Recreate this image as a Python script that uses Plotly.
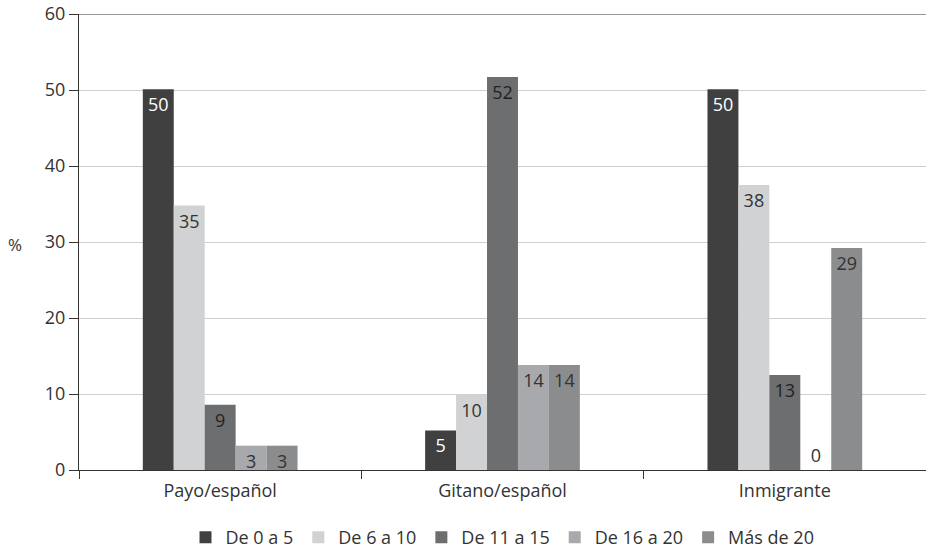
import plotly.graph_objects as go

# Grupos y tramos de antigüedad (%)
groups = ["Payo/español", "Gitano/español", "Inmigrante"]
series_names = ["De 0 a 5", "De 6 a 10", "De 11 a 15", "De 16 a 20", "Más de 20"]
de_0_a_5 = [50.1, 5.2, 50.1]
de_6_a_10 = [34.8, 9.9, 37.5]
de_11_a_15 = [8.6, 51.7, 12.5]
de_16_a_20 = [3.2, 13.8, 0.0]
mas_de_20 = [3.2, 13.8, 29.2]

values = [de_0_a_5, de_6_a_10, de_11_a_15, de_16_a_20, mas_de_20]
colors = ["#404041", "#d1d2d4", "#6d6e70", "#a7a9ac", "#8b8c8e"]
text_colors = ["#ffffff", "#333333", "#222222", "#333333", "#333333"]

FONT = "Open Sans"
INK = "#333333"

fig = go.Figure()
for name, vals, col, tcol in zip(series_names, values, colors, text_colors):
    fig.add_trace(go.Bar(
        name=name,
        x=groups,
        y=vals,
        marker=dict(color=col, line=dict(width=0)),
        texttemplate="%{y:.0f}",
        textposition=["outside" if v == 0 else "inside" for v in vals],
        insidetextanchor="end",
        textangle=0,
        constraintext="none",
        cliponaxis=False,
        textfont=dict(family=FONT, size=18, color=tcol),
        outsidetextfont=dict(family=FONT, size=18, color=INK),
    ))

fig.update_layout(
    width=926,
    height=556,
    margin=dict(l=79, r=0, t=14, b=83),
    paper_bgcolor="white",
    plot_bgcolor="white",
    barmode="group",
    bargap=0.452,
    bargroupgap=0,
    font=dict(family=FONT, size=18, color=INK),
    showlegend=True,
    legend=dict(
        orientation="h",
        xanchor="center",
        x=0.5,
        yanchor="top",
        y=-0.108,
        font=dict(family=FONT, size=18, color=INK),
        itemsizing="constant",
        traceorder="normal",
    ),
    xaxis=dict(
        type="category",
        range=[-0.5, 2.5],
        tickson="boundaries",
        ticks="outside",
        ticklen=8,
        tickcolor=INK,
        showline=True,
        linecolor=INK,
        linewidth=1.2,
        showgrid=False,
        tickfont=dict(family=FONT, size=18, color=INK),
        ticklabelstandoff=4,
    ),
    yaxis=dict(
        range=[0, 60],
        dtick=10,
        ticks="outside",
        ticklen=9,
        tickcolor=INK,
        showline=True,
        linecolor=INK,
        linewidth=1.2,
        showgrid=True,
        gridcolor="#cfcfcf",
        gridwidth=1,
        zeroline=False,
        tickfont=dict(family=FONT, size=18, color=INK),
    ),
    annotations=[dict(
        text="%", xref="paper", yref="paper",
        x=-0.075, y=0.495, xanchor="center", yanchor="middle",
        showarrow=False, font=dict(family=FONT, size=17, color=INK),
    )],
    shapes=[dict(
        type="line", xref="paper", yref="y",
        x0=0, x1=1, y0=60, y1=60,
        line=dict(color=INK, width=1.2),
    )],
)

fig.write_html("out.html")
